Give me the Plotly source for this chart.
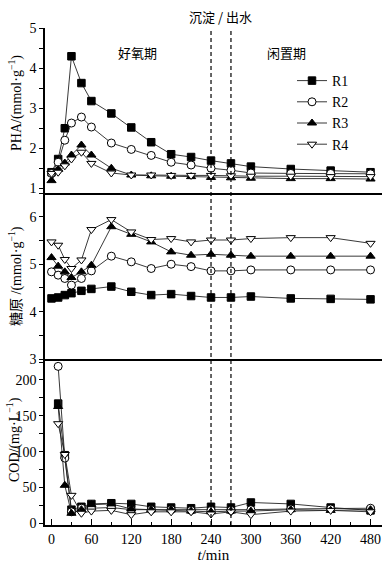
import plotly.graph_objects as go

# ---------------- data ----------------
t_main = [0, 10, 20, 30, 45, 60, 90, 120, 150, 180, 210, 240, 270, 300, 360, 420, 480]
pha_r1 = [1.40, 1.73, 2.50, 4.30, 3.63, 3.18, 2.87, 2.52, 2.15, 1.85, 1.78, 1.69, 1.62, 1.54, 1.48, 1.44, 1.40]
pha_r2 = [1.37, 1.65, 2.20, 2.63, 2.78, 2.53, 2.13, 1.97, 1.82, 1.65, 1.58, 1.50, 1.45, 1.38, 1.37, 1.37, 1.36]
pha_r3 = [1.19, 1.47, 1.63, 1.83, 2.08, 1.83, 1.50, 1.33, 1.31, 1.30, 1.29, 1.27, 1.26, 1.25, 1.24, 1.24, 1.23]
pha_r4 = [1.37, 1.40, 1.56, 1.73, 1.90, 1.62, 1.38, 1.33, 1.33, 1.32, 1.32, 1.32, 1.31, 1.30, 1.30, 1.29, 1.29]

gly_r1 = [4.28, 4.30, 4.35, 4.39, 4.44, 4.48, 4.53, 4.42, 4.35, 4.37, 4.33, 4.30, 4.30, 4.32, 4.28, 4.27, 4.26]
gly_r2 = [4.84, 4.77, 4.70, 4.56, 4.70, 4.86, 5.17, 5.05, 4.91, 5.00, 4.95, 4.86, 4.86, 4.88, 4.88, 4.88, 4.88]
gly_r3 = [5.14, 4.96, 4.84, 4.72, 4.84, 4.98, 5.79, 5.63, 5.47, 5.26, 5.19, 5.21, 5.19, 5.17, 5.17, 5.17, 5.17]
gly_r4 = [5.47, 5.40, 5.10, 4.91, 5.09, 5.73, 5.94, 5.68, 5.52, 5.54, 5.47, 5.51, 5.51, 5.54, 5.56, 5.56, 5.44]

t_cod = [10, 20, 30, 45, 60, 90, 120, 150, 180, 210, 240, 270, 300, 360, 420, 480]
cod_r1 = [167, 95, 19, 23, 27, 28, 27, 23, 22, 21, 23, 22, 29, 27, 22, 18]
cod_r2 = [219, 91, 16, 21, 21, 22, 19, 19, 19, 18, 18, 18, 19, 20, 20, 21]
cod_r3 = [163, 53, 14, 19, 26, 27, 20, 19, 19, 17, 16, 17, 17, 19, 18, 19]
cod_r4 = [139, 96, 39, 14, 17, 18, 12, 16, 16, 16, 13, 16, 12, 17, 18, 16]

series_names = ["R1", "R2", "R3", "R4"]
x_ticks = [0, 60, 120, 180, 240, 300, 360, 420, 480]
settle_times = [240, 270]

# ---------------- style ----------------
SERIF = "Liberation Serif, Times New Roman, serif"
CJK = "Noto Sans CJK SC"
styles = [
    dict(symbol="square", color="black"),
    dict(symbol="circle", color="white"),
    dict(symbol="triangle-up", color="black"),
    dict(symbol="triangle-down", color="white"),
]
sizes = [7.5, 8, 8, 8]

fig = go.Figure()

panels = [
    ("x3", "y3", t_main, [pha_r1, pha_r2, pha_r3, pha_r4], True),
    ("x2", "y2", t_main, [gly_r1, gly_r2, gly_r3, gly_r4], False),
    ("x", "y", t_cod, [cod_r1, cod_r2, cod_r3, cod_r4], False),
]
for xa, ya, tt, data, show in panels:
    for i, (name, vals) in enumerate(zip(series_names, data)):
        st = styles[i]
        fig.add_trace(go.Scatter(
            x=tt, y=vals, name=name, xaxis=xa, yaxis=ya,
            mode="lines+markers", showlegend=show,
            line=dict(color="#222", width=0.9),
            marker=dict(symbol=st["symbol"], size=sizes[i], color=st["color"],
                        line=dict(color="black", width=1)),
        ))

xr = [-9.8, 496.8]
xdom = [45 / 386, 381.7 / 386]
dom_pha = [1 - 193 / 567, 1 - 28.3 / 567]
dom_gly = [1 - 359.2 / 567, 1 - 193 / 567]
dom_cod = [1 - 525 / 567, 1 - 359.2 / 567]

tickfont = dict(family=SERIF, size=14, color="black")

def xaxis(show_labels, anchor):
    d = dict(domain=xdom, range=xr, anchor=anchor, showline=True, linecolor="black",
             linewidth=1.6, showgrid=False, zeroline=False, tickfont=tickfont, automargin=False)
    if show_labels:
        d.update(tickvals=x_ticks, ticks="inside", ticklen=6, tickwidth=1.3, tickcolor="black",
                 minor=dict(dtick=30, tick0=0, ticks="inside", ticklen=3, tickwidth=1.3, tickcolor="black"),
                 title=dict(text="<i>t</i>/min", font=dict(family=SERIF, size=15, color="black"), standoff=4))
    else:
        d.update(showticklabels=False, ticks="")
    return d

def yaxis(rng, dom, anchor, tickvals, minor_dtick, minor_tick0):
    return dict(domain=dom, range=rng, anchor=anchor, showline=True, linecolor="black",
                linewidth=1.6, showgrid=False, zeroline=False, tickfont=tickfont, automargin=False,
                tickvals=tickvals, ticks="outside", ticklen=4, tickwidth=1.3, tickcolor="black",
                minor=dict(dtick=minor_dtick, tick0=minor_tick0, ticks="outside", ticklen=4,
                           tickwidth=1.3, tickcolor="black"))

fig.update_layout(
    width=386, height=567,
    margin=dict(l=0, r=0, t=0, b=0, autoexpand=False),
    paper_bgcolor="white", plot_bgcolor="white",
    xaxis=xaxis(True, "y"),
    xaxis2=xaxis(False, "y2"),
    xaxis3=xaxis(False, "y3"),
    yaxis=yaxis([-2.4, 229], dom_cod, "x", [0, 50, 100, 150, 200], 25, 0),
    yaxis2=yaxis([3, 6.5], dom_gly, "x2", [3, 4, 5, 6], 0.5, 0),
    yaxis3=yaxis([0.88, 5], dom_pha, "x3", [1, 2, 3, 4, 5], 0.5, 0),
    legend=dict(x=292 / 386, y=1 - 65 / 567, xanchor="left", yanchor="top",
                font=dict(family=SERIF, size=14, color="black"),
                bgcolor="rgba(0,0,0,0)", itemwidth=30),
    showlegend=True,
)
fig.update_xaxes(matches="x")

# vertical dashed lines (settling / discharge)
for tv in settle_times:
    fig.add_shape(type="line", xref="x", yref="paper", x0=tv, x1=tv,
                  y0=dom_cod[0], y1=dom_pha[1],
                  line=dict(color="black", width=1.2, dash="4px,3px"))

ann = [
    dict(text="沉淀 / 出水", x=220 / 386, y=1 - 17 / 567, font=dict(family=CJK, size=13, color="black")),
    dict(text="好氧期", x=137 / 386, y=1 - 52 / 567, font=dict(family=CJK, size=13, color="black")),
    dict(text="闲置期", x=286 / 386, y=1 - 52 / 567, font=dict(family=CJK, size=13, color="black")),
]
for a in ann:
    fig.add_annotation(xref="paper", yref="paper", showarrow=False, xanchor="center", yanchor="middle", **a)

ytitles = [
    ("PHA/(mmol·g<sup>−1</sup>)", 15, 103),
    ("糖原 /(mmol·g<sup>−1</sup>)", 15, 276),
    ("COD/(mg·L<sup>−1</sup>)", 13, 440),
]
for txt, px, py in ytitles:
    fig.add_annotation(text=txt, xref="paper", yref="paper", x=px / 386, y=1 - py / 567,
                       showarrow=False, textangle=-90, xanchor="center", yanchor="middle",
                       font=dict(family=SERIF + ", " + CJK, size=14, color="black"))

fig.write_html("out.html", config={"displayModeBar": False},
               post_script="document.body.style.margin='0';document.body.style.padding='0';")
